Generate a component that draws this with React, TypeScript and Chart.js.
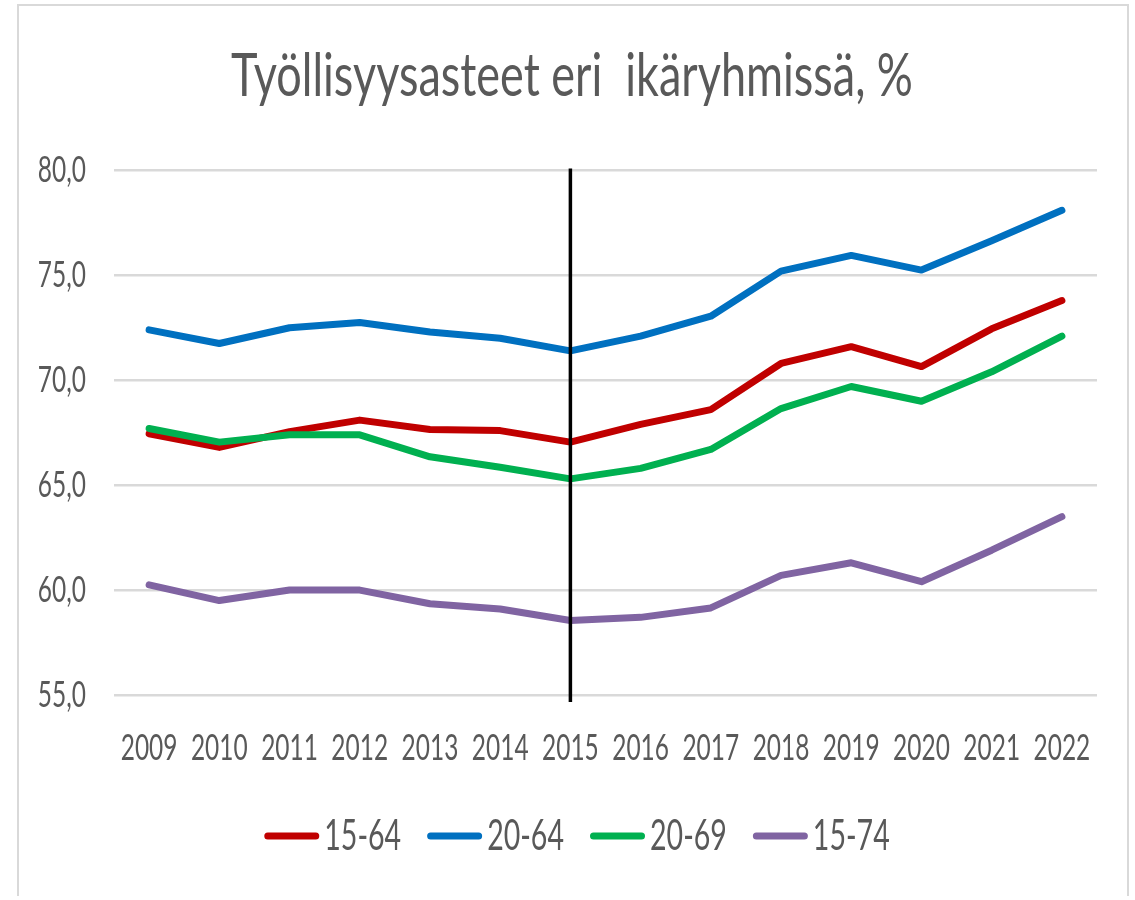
import React, { useEffect, useRef } from "react";
import { Chart, registerables } from "chart.js";

Chart.register(...registerables);

const years = ["2009", "2010", "2011", "2012", "2013", "2014", "2015", "2016", "2017", "2018", "2019", "2020", "2021", "2022"];
const seriesNames = ["15-64", "20-64", "20-69", "15-74"];
const s1564 = [67.45, 66.8, 67.55, 68.1, 67.65, 67.6, 67.05, 67.9, 68.6, 70.8, 71.6, 70.65, 72.45, 73.8];
const s2064 = [72.4, 71.75, 72.5, 72.75, 72.3, 72.0, 71.4, 72.1, 73.05, 75.2, 75.95, 75.25, 76.65, 78.1];
const s2069 = [67.7, 67.05, 67.4, 67.4, 66.35, 65.85, 65.3, 65.8, 66.7, 68.65, 69.7, 69.0, 70.4, 72.1];
const s1574 = [60.25, 59.5, 60.0, 60.0, 59.35, 59.1, 58.55, 58.7, 59.15, 60.7, 61.3, 60.4, 61.9, 63.5];
const colors = ["#C00000", "#0070C0", "#00B050", "#8064A2"];
const markerYear = "2015";
const yMin = 55;
const yMax = 80;
const yStep = 5;
const titleText = "Työllisyysasteet eri  ikäryhmissä, %";

const FONT = "Lato, 'Open Sans', 'Noto Sans', sans-serif";
const TEXT = "#595959";
const TITLE_SIZE = 60;
const TICK_SIZE = 36;
const LEGEND_SIZE = 42;
const TITLE_K = 0.75;
const TEXT_K = 0.68;
const LEGEND_TEXT_PULL = 16;

// condensed text rendering (the reference uses a narrow face)
function condenseContext(ctx: any) {
  if (ctx.__condensed) return;
  ctx.__condensed = true;
  const origFill = ctx.fillText.bind(ctx);
  const origMeasure = ctx.measureText.bind(ctx);
  const sizeOf = () => {
    const m = /(\d+(?:\.\d+)?)px/.exec(ctx.font);
    return m ? parseFloat(m[1]) : 12;
  };
  const kFor = (s: number) => (s >= 50 ? TITLE_K : TEXT_K);
  ctx.fillText = (t: string, x: number, y: number, mw?: number) => {
    const s = sizeOf();
    const k = kFor(s);
    const dx = s === LEGEND_SIZE ? -LEGEND_TEXT_PULL : 0;
    ctx.save();
    ctx.translate(x + dx, y);
    ctx.scale(k, 1);
    if (mw === undefined || mw === null) origFill(t, 0, 0);
    else origFill(t, 0, 0, mw / k);
    ctx.restore();
  };
  ctx.measureText = (t: string) => {
    const k = kFor(sizeOf());
    const m = origMeasure(t);
    return {
      width: m.width * k,
      actualBoundingBoxAscent: m.actualBoundingBoxAscent,
      actualBoundingBoxDescent: m.actualBoundingBoxDescent,
      actualBoundingBoxLeft: m.actualBoundingBoxLeft * k,
      actualBoundingBoxRight: m.actualBoundingBoxRight * k,
    };
  };
}

const markerPlugin = {
  id: "markerLine",
  afterDatasetsDraw(chart: any) {
    const x = chart.scales.x.getPixelForValue(years.indexOf(markerYear));
    const y = chart.scales.y;
    const ctx = chart.ctx;
    ctx.save();
    ctx.strokeStyle = "#000000";
    ctx.lineWidth = 3.5;
    ctx.beginPath();
    ctx.moveTo(x, y.getPixelForValue(yMax) - 2);
    ctx.lineTo(x, y.getPixelForValue(yMin) + 7);
    ctx.stroke();
    ctx.restore();
  },
};

const shiftPlugin = {
  id: "shiftBlocks",
  afterLayout(chart: any) {
    if (chart.legend) {
      chart.legend.left += 22;
      chart.legend.right += 22;
    }
    if (chart.titleBlock) {
      chart.titleBlock.left += 9;
      chart.titleBlock.right += 9;
    }
  },
};

export default function App() {
  const ref = useRef<HTMLCanvasElement | null>(null);

  useEffect(() => {
    if (!ref.current) return;
    const ctx = ref.current.getContext("2d");
    condenseContext(ctx);
    const all = [s1564, s2064, s2069, s1574];
    const orders = [3, 2, 1, 0];
    const chart = new Chart(ref.current, {
      type: "line",
      data: {
        labels: years,
        datasets: all.map((d, i) => ({
          label: seriesNames[i],
          data: d,
          borderColor: colors[i],
          backgroundColor: colors[i],
          borderWidth: 7,
          borderCapStyle: "round" as const,
          borderJoinStyle: "round" as const,
          pointRadius: 0,
          pointHoverRadius: 0,
          tension: 0,
          fill: false,
          order: orders[i],
        })),
      },
      options: {
        responsive: false,
        animation: false,
        devicePixelRatio: 1,
        layout: { padding: { left: 10, right: 30, top: 0, bottom: 25 } },
        plugins: {
          title: {
            display: true,
            text: titleText,
            color: TEXT,
            font: { family: FONT, size: TITLE_SIZE, weight: "normal" },
            padding: { top: 34.8, bottom: 57.6 },
          },
          legend: {
            display: true,
            position: "bottom",
            labels: {
              color: TEXT,
              font: { family: FONT, size: LEGEND_SIZE },
              boxWidth: 55,
              boxHeight: 7,
              padding: 10,
              useBorderRadius: true,
              borderRadius: 3.5,
              generateLabels: (c: any) =>
                c.data.datasets.map((ds: any, i: number) => ({
                  text: ds.label,
                  fillStyle: colors[i],
                  strokeStyle: colors[i],
                  lineWidth: 0,
                  fontColor: TEXT,
                  borderRadius: 3.5,
                  datasetIndex: i,
                  hidden: false,
                })),
            },
          },
          tooltip: { enabled: false },
        },
        scales: {
          x: {
            offset: true,
            grid: { display: false, drawTicks: false, tickLength: 0 },
            border: { display: false },
            ticks: {
              color: TEXT,
              font: { family: FONT, size: TICK_SIZE },
              padding: 32,
              maxRotation: 0,
              autoSkip: false,
            },
            afterFit: (s: any) => {
              s.height = 110;
            },
          },
          y: {
            min: yMin,
            max: yMax,
            grid: { color: "#d9d9d9", lineWidth: 2.5, drawTicks: false, tickLength: 0 },
            border: { display: false },
            ticks: {
              stepSize: yStep,
              color: TEXT,
              font: { family: FONT, size: TICK_SIZE },
              padding: 28,
              callback: (v: any) => Number(v).toFixed(1).replace(".", ","),
            },
            afterFit: (s: any) => {
              s.width = 85;
            },
          },
        },
      },
      plugins: [markerPlugin, shiftPlugin],
    });
    return () => chart.destroy();
  }, []);

  return (
    <div
      style={{
        position: "absolute",
        left: 17,
        top: 4,
        width: 1112,
        height: 892,
        borderTop: "2px solid #d9d9d9",
        borderLeft: "2px solid #d9d9d9",
        borderRight: "2px solid #d9d9d9",
        borderBottom: "none",
        boxSizing: "border-box",
        background: "#ffffff",
      }}
    >
      <canvas ref={ref} width={1108} height={886} style={{ display: "block", width: 1108, height: 886 }} />
    </div>
  );
}
